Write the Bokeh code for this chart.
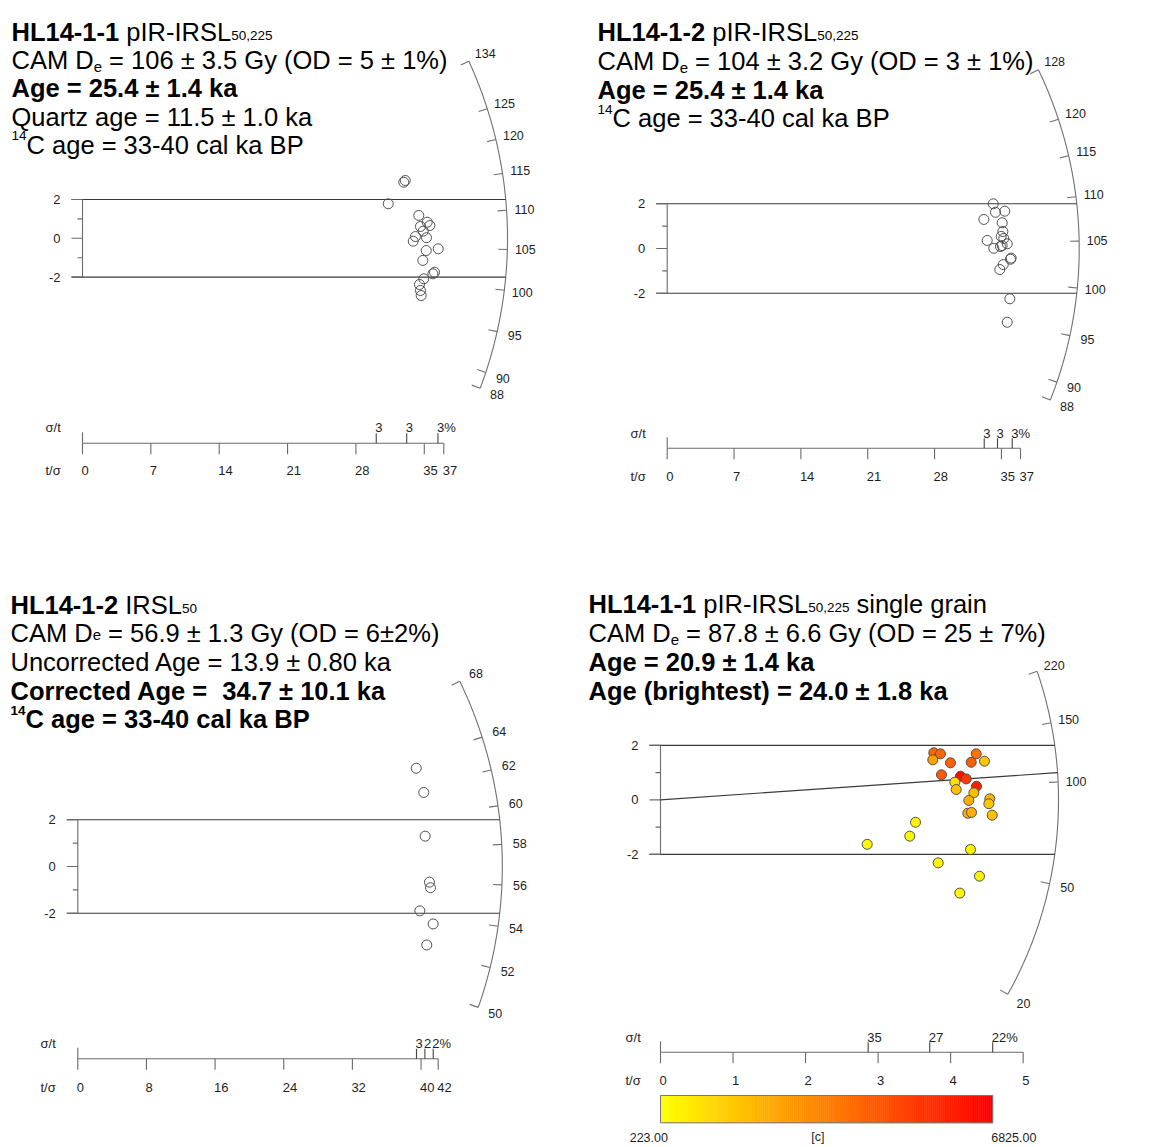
import numpy as np
from bokeh.plotting import figure
from bokeh.layouts import gridplot
from bokeh.models import Range1d
from bokeh.transform import linear_cmap
from bokeh.core.properties import value
from bokeh.embed import file_html
from bokeh.resources import INLINE

FONT = "Liberation Sans"

# ---------------- data ----------------
# Panel 1: HL14-1-1 pIR-IRSL50,225  (x = t/sigma precision, y = standardised estimate)
p1_tsig = [32.90, 33.05, 31.31, 34.44, 35.30, 35.57, 34.61, 34.89, 34.10, 35.23,
           33.87, 36.43, 35.20, 34.85, 36.05, 35.88, 34.95, 34.51, 34.61, 34.68]
p1_z = [2.89, 2.98, 1.78, 1.18, 0.83, 0.66, 0.61, 0.37, 0.09, 0.03,
        -0.15, -0.54, -0.63, -1.14, -1.75, -1.83, -2.09, -2.38, -2.69, -2.95]
p1_center = 106.4
p1_arc_ticks = [88, 90, 95, 100, 105, 110, 115, 120, 125, 134]
p1_tsig_ticks = [0, 7, 14, 21, 28, 35, 37]
p1_sigt_pos = [30.08, 33.2, 36.4]
p1_sigt_labels = ["3", "3", "3%"]

# Panel 2: HL14-1-2 pIR-IRSL50,225
p2_tsig = [34.14, 34.38, 35.35, 33.16, 35.08, 35.15, 34.98, 35.25, 33.51, 35.61,
           35.08, 34.90, 34.20, 36.02, 35.95, 35.19, 34.83, 35.88, 35.61]
p2_z = [2.00, 1.62, 1.67, 1.30, 1.15, 0.76, 0.54, 0.45, 0.36, 0.21,
        0.13, 0.09, 0.01, -0.43, -0.48, -0.72, -0.94, -2.25, -3.30]
p2_center = 104.2
p2_arc_ticks = [88, 90, 95, 100, 105, 110, 115, 120, 128]
p2_tsig_ticks = [0, 7, 14, 21, 28, 35, 37]
p2_sigt_pos = [33.2, 34.59, 36.13]
p2_sigt_labels = ["3", "3", "3%"]

# Panel 3: HL14-1-2 IRSL50
p3_tsig = [39.44, 40.32, 40.48, 40.98, 41.10, 39.86, 41.41, 40.67]
p3_z = [4.21, 3.17, 1.30, -0.67, -0.91, -1.90, -2.46, -3.36]
p3_center = 56.9
p3_arc_ticks = [50, 52, 54, 56, 58, 60, 62, 64, 68]
p3_tsig_ticks = [0, 8, 16, 24, 32, 40, 42]
p3_sigt_pos = [39.47, 40.45, 41.42]
p3_sigt_labels = ["3", "2", "2%"]

# Panel 4: HL14-1-1 pIR-IRSL50,225 single grain (coloured by [c])
p4_tsig = [3.768, 3.860, 3.754, 3.998, 4.353, 4.284, 4.467, 3.874, 4.136, 4.215,
           4.357, 4.058, 4.077, 4.320, 4.251, 4.540, 4.527, 4.237, 4.288, 4.573,
           3.516, 3.437, 2.850, 4.274, 3.829, 4.398, 4.127]
p4_z = [1.73, 1.69, 1.47, 1.36, 1.69, 1.38, 1.42, 0.92, 0.87, 0.77,
        0.50, 0.65, 0.38, 0.26, -0.02, 0.04, -0.14, -0.49, -0.46, -0.56,
        -0.82, -1.33, -1.63, -1.82, -2.31, -2.80, -3.42]
p4_c = [4200, 4200, 2700, 4300, 3900, 4400, 1700, 4500, 6500, 5400,
        6000, 1000, 1900, 2000, 2300, 2100, 1700, 2400, 2300, 1800,
        500, 450, 400, 600, 500, 600, 450]
p4_center = 88.7
p4_line_value = 106.5
p4_arc_ticks = [20, 50, 100, 150, 220]
p4_tsig_ticks = [0, 1, 2, 3, 4, 5]
p4_sigt_pos = [2.863, 3.712, 4.58]
p4_sigt_labels = ["35", "27", "22%"]
c_low, c_high = 223.0, 6825.0
c_labels = ["223.00", "[c]", "6825.00"]

headers = {
    1: [[("HL14-1-1", "b"), (" pIR-IRSL", "r"), ("50,225", "sub")],
        [("CAM D", "r"), ("e", "sube"), (" = 106 ± 3.5 Gy (OD = 5 ± 1%)", "r")],
        [("Age = 25.4 ± 1.4 ka", "b")],
        [("Quartz age = 11.5 ± 1.0 ka", "r")],
        [("14", "sup"), ("C age = 33-40 cal ka BP", "r")]],
    2: [[("HL14-1-2", "b"), (" pIR-IRSL", "r"), ("50,225", "sub")],
        [("CAM D", "r"), ("e", "sube"), (" = 104 ± 3.2 Gy (OD = 3 ± 1%)", "r")],
        [("Age = 25.4 ± 1.4 ka", "b")],
        [("14", "sup"), ("C age = 33-40 cal ka BP", "r")]],
    3: [[("HL14-1-2", "b"), (" IRSL", "r"), ("50", "sub")],
        [("CAM D", "r"), ("e", "sube3"), (" = 56.9 ± 1.3 Gy (OD = 6±2%)", "r")],
        [("Uncorrected Age = 13.9 ± 0.80 ka", "r")],
        [("Corrected Age =", "b"), ("  34.7 ± 10.1 ka", "b")],
        [("14", "bsup"), ("C age = 33-40 cal ka BP", "b")]],
    4: [[("HL14-1-1", "b"), (" pIR-IRSL", "r"), ("50,225", "sub"), (" single grain", "r")],
        [("CAM D", "r"), ("e", "sube"), (" = 87.8 ± 6.6 Gy (OD = 25 ± 7%)", "r")],
        [("Age = 20.9 ± 1.4 ka", "b")],
        [("Age (brightest) = 24.0 ± 1.8 ka", "b")]],
}

# ---------------- layout / style (page pixels) ----------------
GEOM = {
    1: dict(PX=0, PY=0, W=575, H=573, ox=82.0, oy=237.8, sx=9.765, sy=19.4, R=425,
            axis_py=442.7, lab_py=470.0, sig_py=427.3, left_px=45,
            hx=11, hbase=[31.5, 59.7, 87.9, 116.1, 144.3]),
    2: dict(PX=575, PY=0, W=576, H=573, ox=666.7, oy=248.0, sx=9.549, sy=22.35, R=412,
            axis_py=447.7, lab_py=476.0, sig_py=432.7, left_px=630,
            hx=597, hbase=[31.5, 60.5, 89.0, 117.5]),
    3: dict(PX=0, PY=573, W=575, H=574, ox=77.3, oy=866.0, sx=8.581, sy=23.35, R=424.5,
            axis_py=1058.3, lab_py=1086.7, sig_py=1042.7, left_px=40,
            hx=10, hbase=[604.0, 632.5, 661.5, 690.0, 718.5]),
    4: dict(PX=575, PY=573, W=576, H=574, ox=660.0, oy=799.4, sx=72.53, sy=27.25, R=398,
            axis_py=1051.7, lab_py=1080.0, sig_py=1036.7, left_px=625,
            hx=588, hbase=[603.0, 632.5, 661.5, 690.0]),
}

KINDS = {
    "r": (False, 25.5, 0.0),
    "b": (True, 25.5, 0.0),
    "sub": (False, 13.5, 3.5),
    "sube": (False, 15.0, 7.0),
    "sube3": (False, 15.0, 2.0),
    "sup": (False, 13.5, -9.0),
    "bsup": (True, 13.5, -9.0),
}

REG_W = {' ': 278, '%': 889, '(': 333, ')': 333, ',': 278, '-': 333, '.': 278, '=': 584, '±': 549,
         'A': 667, 'C': 722, 'D': 722, 'G': 778, 'H': 722, 'I': 278, 'L': 556, 'M': 833, 'O': 778,
         'P': 667, 'Q': 778, 'R': 722, 'S': 667, 'U': 722,
         'a': 556, 'b': 556, 'c': 500, 'd': 556, 'e': 556, 'g': 556, 'i': 222, 'k': 500, 'l': 222,
         'n': 556, 'o': 556, 'p': 556, 'r': 333, 's': 500, 't': 278, 'u': 556, 'y': 500, 'z': 500}
BOLD_W = {' ': 278, '(': 333, ')': 333, '-': 333, '.': 278, '=': 584, '±': 549,
          'A': 722, 'B': 722, 'C': 722, 'H': 722, 'L': 611, 'P': 667,
          'a': 556, 'b': 611, 'c': 556, 'd': 611, 'e': 556, 'g': 611, 'h': 611, 'i': 278,
          'k': 556, 'l': 278, 'n': 611, 'o': 611, 'r': 389, 's': 556, 't': 333}


def text_w(s, bold, size):
    tab = BOLD_W if bold else REG_W
    return sum(tab.get(ch, 556) for ch in s) * size / 1000.0


AX_COL = "#6a6a6a"
ARC_COL = "#707070"
BAND_COL = "#3a3a3a"
LAB_COL = "#1e1e1e"
PT_LINE = "#505050"

palette = ['#%02x%02x%02x' % (255, int(round(255 * (1 - i / 255.0))), 0) for i in range(256)]


def make_panel(n, center, arc_ticks, tsig_ticks, sig_pos, sig_lab):
    g = GEOM[n]
    PX, PY, W, H = g["PX"], g["PY"], g["W"], g["H"]
    ox, oy, sx, sy, R = g["ox"], g["oy"], g["sx"], g["sy"], g["R"]
    x0 = -(ox - PX) / sx
    y1 = (oy - PY) / sy
    p = figure(width=W, height=H, x_range=Range1d(x0, x0 + W / sx),
               y_range=Range1d(y1 - H / sy, y1), min_border=0,
               toolbar_location=None, output_backend="svg",
               x_axis_type=None, y_axis_type=None, outline_line_color=None, title=None)
    p.background_fill_color = "white"
    p.border_fill_color = "white"

    X = lambda px: (px - ox) / sx
    Y = lambda py: (oy - py) / sy

    # --- arc (radial scale of the estimate) ---
    f = lambda t: np.arctan(np.log(np.asarray(t, float) / center) * sy / sx)
    ph = np.linspace(f(min(arc_ticks)), f(max(arc_ticks)), 300)
    p.line(R * np.cos(ph) / sx, R * np.sin(ph) / sy, line_color=ARC_COL, line_width=1.1)
    pt = f(arc_ticks)
    p.segment(x0=(R - 9) * np.cos(pt) / sx, y0=(R - 9) * np.sin(pt) / sy,
              x1=R * np.cos(pt) / sx, y1=R * np.sin(pt) / sy,
              line_color=ARC_COL, line_width=1.1)
    p.text(x=(R + 18) * np.cos(pt) / sx, y=(R + 18) * np.sin(pt) / sy,
           text=[str(t) for t in arc_ticks], text_align="center", text_baseline="middle",
           text_font=value(FONT), text_font_size=value("12.5px"), text_color=LAB_COL)

    # --- +-2 band and z axis ---
    for v in (-2, 2):
        xe = np.sqrt(R ** 2 - (v * sy) ** 2) / sx
        p.line([-11 / sx, xe], [v, v], line_color=BAND_COL, line_width=1.1)
    p.segment(x0=[0], y0=[-2], x1=[0], y1=[2], line_color=AX_COL, line_width=1.1)
    p.segment(x0=[-11 / sx] * 3, y0=[-2, 0, 2], x1=[0] * 3, y1=[-2, 0, 2],
              line_color=AX_COL, line_width=1.1)
    p.segment(x0=[-5 / sx] * 2, y0=[-1, 1], x1=[0] * 2, y1=[-1, 1],
              line_color=AX_COL, line_width=1.1)
    p.text(x=[-22 / sx] * 3, y=[-2, 0, 2], text=["-2", "0", "2"], text_align="right",
           text_baseline="middle", text_font=value(FONT), text_font_size=value("13px"),
           text_color=LAB_COL)

    # --- precision axis (t/sigma) with relative error (sigma/t) ticks ---
    yb = Y(g["axis_py"])
    tt = list(tsig_ticks)
    p.line([0, tt[-1]], [yb, yb], line_color=AX_COL, line_width=1.1)
    p.segment(x0=tt, y0=[yb] * len(tt), x1=tt, y1=[yb - 11 / sy] * len(tt),
              line_color=AX_COL, line_width=1.1)
    p.segment(x0=[0], y0=[yb], x1=[0], y1=[yb + 11 / sy], line_color=AX_COL, line_width=1.1)
    p.text(x=[t - 1 / sx for t in tt], y=[Y(g["lab_py"])] * len(tt), text=[str(t) for t in tt],
           text_align="left", text_baseline="middle", text_font=value(FONT),
           text_font_size=value("13px"), text_color=LAB_COL)
    p.segment(x0=sig_pos, y0=[yb] * len(sig_pos), x1=sig_pos, y1=[yb + 10 / sy] * len(sig_pos),
              line_color="#444444", line_width=1.1)
    p.text(x=[s - 1 / sx for s in sig_pos], y=[Y(g["sig_py"])] * len(sig_pos), text=sig_lab,
           text_align="left", text_baseline="middle", text_font=value(FONT),
           text_font_size=value("13px"), text_color=LAB_COL)
    p.text(x=[X(g["left_px"])] * 2, y=[Y(g["sig_py"]), Y(g["lab_py"])], text=["σ/t", "t/σ"],
           text_align="left", text_baseline="middle", text_font=value(FONT),
           text_font_size=value("13px"), text_color=LAB_COL)

    # --- header text (pieces placed with Arial/Liberation advance widths) ---
    groups = {}
    for line, base in zip(headers[n], g["hbase"]):
        cx = g["hx"]
        for txt, kind in line:
            bold, size, dy = KINDS[kind]
            lead = len(txt) - len(txt.lstrip(" "))
            start = cx + text_w(" " * lead, bold, size)
            d = groups.setdefault(kind, dict(x=[], y=[], text=[]))
            d["x"].append(X(start))
            d["y"].append(Y(base + dy))
            d["text"].append(txt.strip(" "))
            cx += text_w(txt, bold, size)
    for kind, d in groups.items():
        bold, size, dy = KINDS[kind]
        p.text(x=d["x"], y=d["y"], text=d["text"], text_align="left",
               text_baseline="alphabetic", text_font=value(FONT),
               text_font_size=value("%gpx" % size),
               text_font_style="bold" if bold else "normal", text_color="black")
    return p, X, Y


p1, _, _ = make_panel(1, p1_center, p1_arc_ticks, p1_tsig_ticks, p1_sigt_pos, p1_sigt_labels)
p1.scatter(p1_tsig, p1_z, marker="circle", size=10, fill_color=None, line_color=PT_LINE, line_width=1)

p2, _, _ = make_panel(2, p2_center, p2_arc_ticks, p2_tsig_ticks, p2_sigt_pos, p2_sigt_labels)
p2.scatter(p2_tsig, p2_z, marker="circle", size=10, fill_color=None, line_color=PT_LINE, line_width=1)

p3, _, _ = make_panel(3, p3_center, p3_arc_ticks, p3_tsig_ticks, p3_sigt_pos, p3_sigt_labels)
p3.scatter(p3_tsig, p3_z, marker="circle", size=10, fill_color=None, line_color=PT_LINE, line_width=1)

p4, X4, Y4 = make_panel(4, p4_center, p4_arc_ticks, p4_tsig_ticks, p4_sigt_pos, p4_sigt_labels)
g4 = GEOM[4]
# central line
phc = np.arctan(np.log(p4_line_value / p4_center) * g4["sy"] / g4["sx"])
p4.line([0, g4["R"] * np.cos(phc) / g4["sx"]], [0, g4["R"] * np.sin(phc) / g4["sy"]],
        line_color=BAND_COL, line_width=1.1)
cmap = linear_cmap("c", palette, c_low, c_high)
p4.scatter(x="x", y="y", source=dict(x=p4_tsig, y=p4_z, c=p4_c), marker="circle", size=10,
           fill_color=cmap, line_color=PT_LINE, line_width=1)
# colour bar along the precision axis
nb = 160
edges = np.linspace(0, p4_sigt_pos[-1], nb + 1)
cvals = np.linspace(c_low, c_high, nb)
yb0, yb1 = Y4(1122.3), Y4(1095.0)
p4.quad(left="l", right="r", bottom="b", top="t",
        source=dict(l=edges[:-1], r=edges[1:], b=[yb0] * nb, t=[yb1] * nb, c=cvals),
        fill_color=cmap, line_color=cmap, line_width=0.6)
p4.quad(left=[0], right=[p4_sigt_pos[-1]], bottom=[yb0], top=[yb1], fill_color=None,
        line_color="#777777", line_width=1)
p4.text(x=[X4(648.3), X4(817.3), X4(1013.3)], y=[Y4(1136.7)] * 3, text=c_labels,
        text_align="center", text_baseline="middle", text_font=value(FONT),
        text_font_size=value("12.5px"), text_color=LAB_COL)

grid = gridplot([[p1, p2], [p3, p4]], toolbar_location=None)
open("out.html", "w").write(file_html(grid, INLINE))
